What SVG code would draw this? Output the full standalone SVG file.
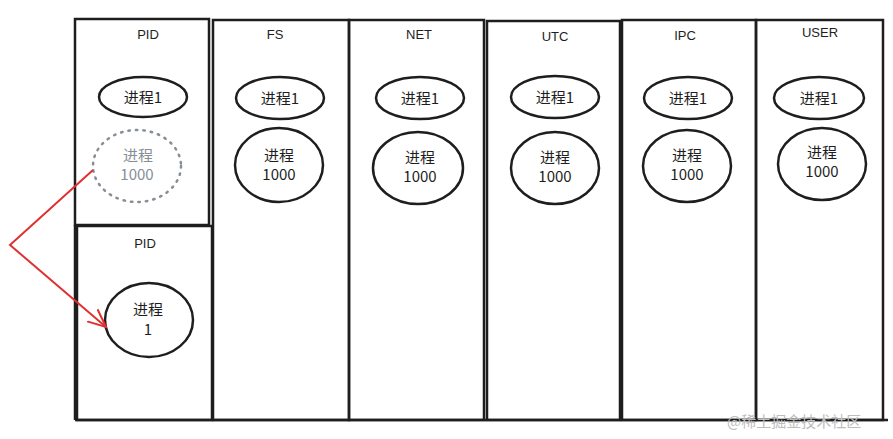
<svg xmlns="http://www.w3.org/2000/svg" width="893" height="439" viewBox="0 0 893 439">
<defs>
<style>
.box{fill:none;stroke:#1e1e1e;stroke-width:2.5}
.proc{fill:none;stroke:#1e1e1e;stroke-width:2.5}
.ghost{fill:none;stroke:#868e96;stroke-width:2.5;stroke-dasharray:1.5 6;stroke-linecap:round}
.lbl{font-family:"Liberation Sans",sans-serif;font-size:13px;fill:#1e1e1e;text-anchor:middle}
.cn{font-family:"Noto Sans CJK SC",sans-serif;font-size:15px;fill:#1e1e1e;text-anchor:middle}
.cng{font-family:"Noto Sans CJK SC",sans-serif;font-size:15px;fill:#868e96;text-anchor:middle}
.wm{font-family:"Noto Sans CJK SC",sans-serif;font-size:15px;fill:#bdbdbd}
</style>
<marker id="arr" markerWidth="22" markerHeight="20" refX="18" refY="10" orient="auto" markerUnits="userSpaceOnUse">
<path d="M0,2 L18,10 L0,18" fill="none" stroke="#e03131" stroke-width="2"/>
</marker>
</defs>
<rect width="893" height="439" fill="#fff"/>

<g id="pid-top">
<rect class="box" x="75" y="19" width="134" height="206"/>
<text class="lbl" x="148" y="39">PID</text>
</g>
<g id="pid-bottom">
<rect class="box" x="77" y="226" width="135" height="194"/>
<line class="box" x1="75" y1="225" x2="75" y2="420"/>
<text class="lbl" x="145" y="248">PID</text>
</g>
<g id="fs">
<rect class="box" x="213" y="20" width="136" height="400"/>
<text class="lbl" x="275" y="39">FS</text>
</g>
<g id="net">
<rect class="box" x="349" y="20" width="135" height="400"/>
<text class="lbl" x="419" y="39">NET</text>
</g>
<g id="utc">
<rect class="box" x="487" y="21" width="133" height="399"/>
<text class="lbl" x="555" y="41">UTC</text>
</g>
<g id="ipc">
<rect class="box" x="622" y="20" width="134" height="400"/>
<text class="lbl" x="685" y="40">IPC</text>
</g>
<g id="user">
<rect class="box" x="756" y="20" width="127" height="400"/>
<text class="lbl" x="820" y="37">USER</text>
</g>
<line class="box" x1="75" y1="420" x2="888" y2="420"/>

<g id="pid-p1"><ellipse class="proc" cx="143" cy="97" rx="44" ry="20"/><text class="cn" x="143" y="103">进程1</text></g>
<g id="pid-p1000"><ellipse class="ghost" cx="137" cy="166" rx="44" ry="36"/><text class="cng" x="138" y="161">进程</text><text class="cng" x="137" y="180">1000</text></g>
<g id="fs-p1"><ellipse class="proc" cx="280" cy="98" rx="44" ry="21"/><text class="cn" x="280" y="104">进程1</text></g>
<g id="fs-p1000"><ellipse class="proc" cx="279" cy="165" rx="44" ry="37"/><text class="cn" x="279" y="161">进程</text><text class="cn" x="279" y="180">1000</text></g>
<g id="net-p1"><ellipse class="proc" cx="420" cy="98" rx="44" ry="21"/><text class="cn" x="420" y="104">进程1</text></g>
<g id="net-p1000"><ellipse class="proc" cx="418" cy="168" rx="45" ry="36"/><text class="cn" x="420" y="163">进程</text><text class="cn" x="420" y="182">1000</text></g>
<g id="utc-p1"><ellipse class="proc" cx="555" cy="97" rx="44" ry="21"/><text class="cn" x="555" y="103">进程1</text></g>
<g id="utc-p1000"><ellipse class="proc" cx="555" cy="168" rx="44" ry="36"/><text class="cn" x="555" y="163">进程</text><text class="cn" x="555" y="182">1000</text></g>
<g id="ipc-p1"><ellipse class="proc" cx="688" cy="98" rx="44" ry="21"/><text class="cn" x="688" y="104">进程1</text></g>
<g id="ipc-p1000"><ellipse class="proc" cx="687" cy="166" rx="44" ry="36"/><text class="cn" x="687" y="161">进程</text><text class="cn" x="687" y="180">1000</text></g>
<g id="user-p1"><ellipse class="proc" cx="819" cy="98" rx="45" ry="21"/><text class="cn" x="819" y="104">进程1</text></g>
<g id="user-p1000"><ellipse class="proc" cx="822" cy="164" rx="44" ry="36"/><text class="cn" x="822" y="158">进程</text><text class="cn" x="822" y="177">1000</text></g>
<g id="pid2-p1"><ellipse class="proc" cx="149" cy="320" rx="44" ry="37"/><text class="cn" x="148" y="315">进程</text><text class="cn" x="148" y="335">1</text></g>

<g id="connectors">
<polyline points="93,170 10,245 106,327" fill="none" stroke="#e03131" stroke-width="2" marker-end="url(#arr)"/>
</g>

<text class="wm" x="727" y="427">@稀土掘金技术社区</text>
</svg>
